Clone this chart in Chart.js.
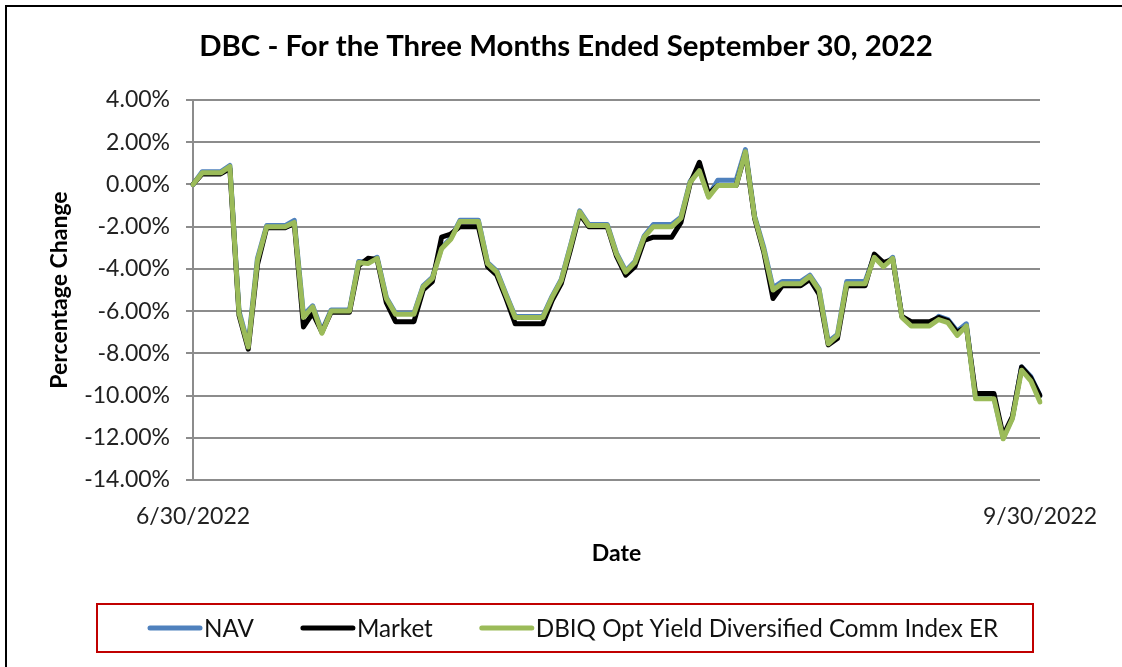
<!DOCTYPE html>
<html>
<head>
<meta charset="utf-8">
<script src="https://cdn.jsdelivr.net/npm/chart.js@4/dist/chart.umd.min.js"></script>
<style>
  html, body { margin: 0; padding: 0; background: #fff; overflow: hidden; }
  .frame { position: absolute; left: 5px; top: 5px; width: 1140px; height: 700px; border: 2px solid #000; }
  .wrap { position: absolute; left: 0; top: 0; width: 1122px; height: 667px; }
</style>
</head>
<body>
<div class="frame"></div>
<div class="wrap"><canvas id="chart" width="1122" height="667"></canvas></div>
<script>
// 数据
const chartTitle = 'DBC - For the Three Months Ended September 30, 2022';
const startDate = new Date(2022, 5, 30);
const endDate = new Date(2022, 8, 30);
const xTickLabels = ['6/30/2022', '9/30/2022'];
const yTicks = { min: -14, max: 4, step: 2 };

const navValues = [
    0, 0.6, 0.6, 0.6, 0.9, -6.0, -7.6, -3.5, -1.95, -1.95,
    -1.95, -1.7, -6.2, -5.75, -6.95, -5.95, -5.95, -5.95, -3.65, -3.7,
    -3.45, -5.35, -6.1, -6.1, -6.1, -4.8, -4.4, -3.0, -2.55, -1.7,
    -1.7, -1.7, -3.7, -4.1, -5.2, -6.25, -6.25, -6.25, -6.25, -5.3,
    -4.5, -2.9, -1.25, -1.9, -1.9, -1.9, -3.25, -4.1, -3.65, -2.45,
    -1.9, -1.9, -1.9, -1.55, 0.15, 0.7, -0.55, 0.2, 0.2, 0.2,
    1.65, -1.5, -3.0, -4.9, -4.6, -4.6, -4.6, -4.3, -4.95, -7.45,
    -7.1, -4.6, -4.6, -4.6, -3.4, -3.85, -3.45, -6.25, -6.65, -6.65,
    -6.65, -6.25, -6.4, -6.95, -6.6, -10.1, -10.1, -10.1, -12.0, -11.05,
    -8.65, -9.1, -10.0
];
const marketValues = [
    0, 0.5, 0.5, 0.5, 0.75, -6.2, -7.8, -3.8, -2.05, -2.05,
    -2.05, -1.85, -6.75, -6.1, -7.0, -6.05, -6.05, -6.05, -3.85, -3.5,
    -3.55, -5.6, -6.5, -6.5, -6.5, -5.0, -4.6, -2.5, -2.35, -2.0,
    -2.0, -2.0, -3.9, -4.3, -5.4, -6.6, -6.6, -6.6, -6.6, -5.5,
    -4.7, -3.1, -1.4, -2.0, -2.0, -2.0, -3.4, -4.3, -3.9, -2.65,
    -2.5, -2.5, -2.5, -1.8, 0.05, 1.05, -0.45, -0.05, -0.05, -0.05,
    1.5, -1.6, -3.2, -5.4, -4.8, -4.8, -4.8, -4.5, -5.2, -7.6,
    -7.3, -4.8, -4.8, -4.8, -3.3, -3.7, -3.55, -6.25, -6.5, -6.5,
    -6.5, -6.3, -6.45, -7.0, -6.75, -9.9, -9.9, -9.9, -11.9, -11.0,
    -8.65, -9.15, -10.0
];
const indexValues = [
    0, 0.55, 0.55, 0.55, 0.85, -6.1, -7.7, -3.6, -2.0, -2.0,
    -2.0, -1.8, -6.3, -5.8, -7.05, -6.0, -6.0, -6.0, -3.7, -3.75,
    -3.5, -5.4, -6.15, -6.15, -6.15, -4.85, -4.45, -3.05, -2.6, -1.75,
    -1.75, -1.75, -3.75, -4.15, -5.25, -6.3, -6.3, -6.3, -6.3, -5.35,
    -4.55, -2.95, -1.3, -1.95, -1.95, -1.95, -3.3, -4.15, -3.7, -2.5,
    -2.0, -2.0, -2.0, -1.6, 0.1, 0.65, -0.6, -0.05, -0.05, -0.05,
    1.55, -1.55, -3.1, -5.0, -4.7, -4.7, -4.7, -4.35, -5.0, -7.55,
    -7.15, -4.7, -4.7, -4.7, -3.45, -3.9, -3.5, -6.3, -6.7, -6.7,
    -6.7, -6.4, -6.55, -7.15, -6.7, -10.15, -10.15, -10.15, -12.05, -11.1,
    -8.8, -9.3, -10.3
];

// 日期标签 (日历日)
const dateLabels = [];
for (let d = new Date(startDate); d <= endDate; d.setDate(d.getDate() + 1)) {
    dateLabels.push((d.getMonth() + 1) + '/' + d.getDate() + '/' + d.getFullYear());
}

const FONT = 'Lato, "Open Sans", sans-serif';

// 标题 + 图例 (红框)
const decorations = {
    id: 'decorations',
    afterDraw(chart) {
        const ctx = chart.ctx;
        ctx.save();
        ctx.fillStyle = '#000';
        ctx.textAlign = 'center';
        ctx.textBaseline = 'middle';
        ctx.font = 'bold 29.4px ' + FONT;
        ctx.fillText(chartTitle, 566, 47);

        ctx.strokeStyle = '#C00000';
        ctx.lineWidth = 2;
        ctx.strokeRect(97, 604, 936, 48);
        ctx.font = '24.2px ' + FONT;
        ctx.textAlign = 'left';
        ctx.fillStyle = '#111';
        const y = 628;
        const sample = 56;
        const gap = 47;
        let x = 147;
        chart.data.datasets.forEach(ds => {
            ctx.strokeStyle = ds.borderColor;
            ctx.lineWidth = 5;
            ctx.lineCap = 'round';
            ctx.beginPath();
            ctx.moveTo(x + 3, y);
            ctx.lineTo(x + sample - 3, y);
            ctx.stroke();
            ctx.fillText(ds.label, x + sample + 1, y + 1);
            x += sample + ctx.measureText(ds.label).width + gap;
        });
        ctx.restore();
    }
};

const lineStyle = { borderWidth: 5, pointRadius: 0, tension: 0, borderJoinStyle: 'round', borderCapStyle: 'round', fill: false };

new Chart(document.getElementById('chart').getContext('2d'), {
    type: 'line',
    data: {
        labels: dateLabels,
        datasets: [
            { label: 'NAV', data: navValues, borderColor: '#4F81BD', backgroundColor: '#4F81BD', order: 2, ...lineStyle },
            { label: 'Market', data: marketValues, borderColor: '#000000', backgroundColor: '#000000', order: 1, ...lineStyle },
            { label: 'DBIQ Opt Yield Diversified Comm Index ER', data: indexValues, borderColor: '#9BBB59', backgroundColor: '#9BBB59', order: 0, ...lineStyle }
        ]
    },
    options: {
        responsive: false,
        animation: false,
        layout: { padding: { left: 20, right: 82, top: 100, bottom: 97 } },
        plugins: {
            legend: { display: false },
            tooltip: { enabled: false },
            title: { display: false }
        },
        scales: {
            x: {
                grid: { display: false, drawTicks: false },
                border: { display: false },
                ticks: {
                    autoSkip: false,
                    minRotation: 0,
                    maxRotation: 0,
                    padding: 23,
                    color: '#222',
                    font: { family: FONT, size: 23 },
                    callback: (v, i) => i === 0 ? xTickLabels[0] : (i === dateLabels.length - 1 ? xTickLabels[1] : '')
                },
                title: { display: true, text: 'Date', color: '#000', font: { family: FONT, size: 23, weight: 'bold' }, padding: { top: 0, bottom: 3 } },
                afterFit: s => { s.height = 90; }
            },
            y: {
                min: yTicks.min,
                max: yTicks.max,
                grid: { color: '#8c8c8c', lineWidth: 2, tickLength: 7 },
                border: { display: true, color: '#8c8c8c', width: 2 },
                ticks: {
                    stepSize: yTicks.step,
                    padding: 16,
                    color: '#222',
                    font: { family: FONT, size: 23 },
                    callback: v => v.toFixed(2) + '%'
                },
                title: { display: true, text: 'Percentage Change', color: '#000', font: { family: FONT, size: 23, weight: 'bold' }, padding: { top: 26, bottom: 0 } },
                afterFit: s => { s.width = 173; }
            }
        }
    },
    plugins: [decorations]
});
</script>
</body>
</html>
